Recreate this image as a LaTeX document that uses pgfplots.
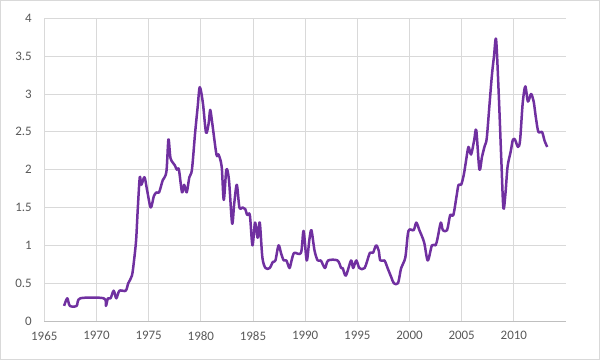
\documentclass[border=0pt]{standalone}
\usepackage{pgfplots}
\pgfplotsset{compat=1.18}
\usepackage{fontspec}
\setmainfont{Carlito}
\definecolor{txt}{HTML}{595959}
\definecolor{grd}{HTML}{D9D9D9}
\definecolor{axl}{HTML}{BFBFBF}
\definecolor{purp}{HTML}{7030A0}
\begin{document}
\begin{tikzpicture}[x=1bp,y=1bp]
\path[use as bounding box] (-44.3,-39) rectangle (555.7,321);
\draw[grd,line width=1bp] (-43.8,-38.5) rectangle (555.2,320.5);
\begin{axis}[
  scale only axis,
  width=521.7bp, height=302.7bp,
  at={(0,0)}, anchor=south west,
  xmin=1965, xmax=2015, ymin=0, ymax=4,
  xtick={1965,1970,...,2010},
  ytick={0,0.5,...,4},
  xticklabel style={/pgf/number format/1000 sep={}},
  /pgf/number format/assume math mode=true,
  yticklabel style={/pgf/number format/fixed},
  major tick length=0pt,
  axis line style={draw=none},
  grid=major,
  major grid style={grd, line width=0.75bp},
  tick label style={font=\fontsize{13}{15}\selectfont, text=txt},
  xticklabel style={yshift=-7bp},
  yticklabel style={xshift=-9bp},
  clip=false,
]
\addplot[purp, line width=2.5bp, smooth, tension=0.5, mark=none, line join=round] coordinates {
(1966.9,0.2) (1967.2,0.3) (1967.45,0.2) (1968.1,0.2) (1968.45,0.3) (1970.7,0.3)
(1970.9,0.2) (1971.1,0.3) (1971.35,0.3) (1971.65,0.4) (1971.9,0.3) (1972.2,0.4)
(1972.8,0.4) (1973.05,0.5) (1973.4,0.6) (1973.6,0.8) (1973.8,1.07) (1973.95,1.46)
(1974.15,1.9) (1974.3,1.8) (1974.6,1.9) (1974.85,1.73) (1975.2,1.5) (1975.5,1.65)
(1975.75,1.7) (1976.0,1.7) (1976.35,1.86) (1976.7,1.97) (1976.9,2.4) (1977.1,2.15)
(1977.5,2.06) (1977.7,2.0) (1977.9,2.0) (1978.2,1.7) (1978.4,1.8) (1978.65,1.7)
(1978.9,1.9) (1979.15,2.0) (1979.45,2.48) (1979.7,2.83) (1979.9,3.09) (1980.2,2.88)
(1980.5,2.49) (1980.75,2.61) (1980.9,2.79) (1981.1,2.61) (1981.5,2.2) (1981.7,2.2)
(1982.0,2.04) (1982.2,1.6) (1982.45,2.0) (1982.7,1.86) (1983.0,1.29) (1983.2,1.55)
(1983.45,1.8) (1983.7,1.5) (1984.0,1.5) (1984.25,1.48) (1984.45,1.4) (1984.7,1.4)
(1984.95,1.0) (1985.2,1.3) (1985.45,1.1) (1985.65,1.3) (1985.9,0.84) (1986.2,0.7)
(1986.6,0.7) (1986.9,0.78) (1987.15,0.8) (1987.45,1.0) (1987.7,0.89) (1987.95,0.8)
(1988.2,0.8) (1988.5,0.7) (1988.7,0.8) (1988.95,0.9) (1989.6,0.9) (1989.85,1.19)
(1990.15,0.8) (1990.4,1.07) (1990.6,1.2) (1990.9,0.93) (1991.2,0.8) (1991.5,0.8)
(1991.9,0.7) (1992.2,0.8) (1993.1,0.8) (1993.45,0.7) (1993.6,0.7) (1993.9,0.6)
(1994.4,0.8) (1994.6,0.7) (1994.9,0.8) (1995.2,0.7) (1995.7,0.7) (1996.2,0.9)
(1996.5,0.9) (1996.8,1.0) (1997.05,0.93) (1997.2,0.8) (1997.6,0.8) (1997.9,0.7)
(1998.25,0.58) (1998.5,0.5) (1998.9,0.5) (1999.2,0.7) (1999.6,0.84) (1999.9,1.19)
(2000.4,1.2) (2000.65,1.3) (2000.95,1.2) (2001.4,1.04) (2001.75,0.8) (2002.15,1.0)
(2002.5,1.0) (2002.7,1.1) (2003.0,1.3) (2003.2,1.2) (2003.6,1.2) (2003.9,1.4)
(2004.2,1.4) (2004.5,1.64) (2004.7,1.8) (2004.95,1.8) (2005.2,1.93) (2005.4,2.1)
(2005.65,2.3) (2005.9,2.2) (2006.2,2.39) (2006.4,2.52) (2006.7,2.0) (2006.95,2.17)
(2007.2,2.31) (2007.4,2.41) (2007.65,2.83) (2007.9,3.25) (2008.1,3.5) (2008.3,3.72)
(2008.55,3.01) (2008.8,2.13) (2009.0,1.49) (2009.2,1.69) (2009.4,2.04) (2009.7,2.24)
(2009.9,2.39) (2010.1,2.4) (2010.4,2.3) (2010.6,2.39) (2010.85,2.88) (2011.1,3.1)
(2011.35,2.9) (2011.65,3.0) (2011.9,2.9) (2012.1,2.7) (2012.35,2.5) (2012.7,2.5)
(2012.95,2.38) (2013.2,2.3)
};
\draw[axl, line width=1bp] (axis cs:1965,0) -- (axis cs:2015,0);
\end{axis}
\end{tikzpicture}
\end{document}
